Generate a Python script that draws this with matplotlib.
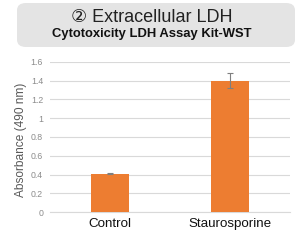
import matplotlib
matplotlib.use("Agg")
import matplotlib.pyplot as plt
from matplotlib.patches import FancyBboxPatch

categories = ["Control", "Staurosporine"]
values = [0.41, 1.40]
errors = [0.008, 0.08]
yticks = [0, 0.2, 0.4, 0.6, 0.8, 1, 1.2, 1.4, 1.6]
ytick_labels = ["0", "0.2", "0.4", "0.6", "0.8", "1", "1.2", "1.4", "1.6"]

plt.rcParams['font.family'] = ['Liberation Sans', 'DejaVu Sans']

W, H = 300, 242
fig = plt.figure(figsize=(W / 100, H / 100), dpi=100)

# grey rounded title box
box = FancyBboxPatch((17 / W, 1 - 47 / H), 278 / W, 44 / H,
                     boxstyle="round,pad=0,rounding_size=0.03",
                     transform=fig.transFigure, facecolor="#e4e4e4",
                     edgecolor="none")
fig.patches.append(box)
fig.text(152 / W, 1 - 18 / H, "② Extracellular LDH", ha="center", va="center",
         fontsize=13, color="#222222",
         family=['Liberation Sans', 'DejaVu Sans'])
fig.text(152 / W, 1 - 34 / H, "Cytotoxicity LDH Assay Kit-WST", ha="center",
         va="center", fontsize=9.4, fontweight="bold", color="#111111")

ax = fig.add_axes([50 / W, 1 - 212 / H, 240 / W, 150 / H])
x = range(len(categories))
ax.bar(x, values, width=0.31, color="#ed7d31", zorder=3)
ax.errorbar(x, values, yerr=errors, fmt="none", ecolor="#7f7f7f",
            elinewidth=0.8, capsize=2.5, capthick=0.8, zorder=4)

ax.set_xlim(-0.5, 1.5)
ax.set_ylim(0, 1.6)
ax.set_yticks(yticks)
ax.set_yticklabels(ytick_labels, fontsize=6.3, color="#8c8c8c")
ax.set_xticks(list(x))
ax.set_xticklabels(categories, fontsize=9.6, color="#111111")
ax.tick_params(length=0, pad=4)
ax.tick_params(axis="y", pad=5)
ax.grid(axis="y", color="#d9d9d9", linewidth=0.8, zorder=0)
for s in ["top", "right", "left"]:
    ax.spines[s].set_visible(False)
ax.spines["bottom"].set_color("#d9d9d9")
ax.set_ylabel("Absorbance (490 nm)", fontsize=8.6, color="#595959")
ax.yaxis.set_label_coords(-0.095, 0.48)

fig.savefig("out.png", dpi=100)
